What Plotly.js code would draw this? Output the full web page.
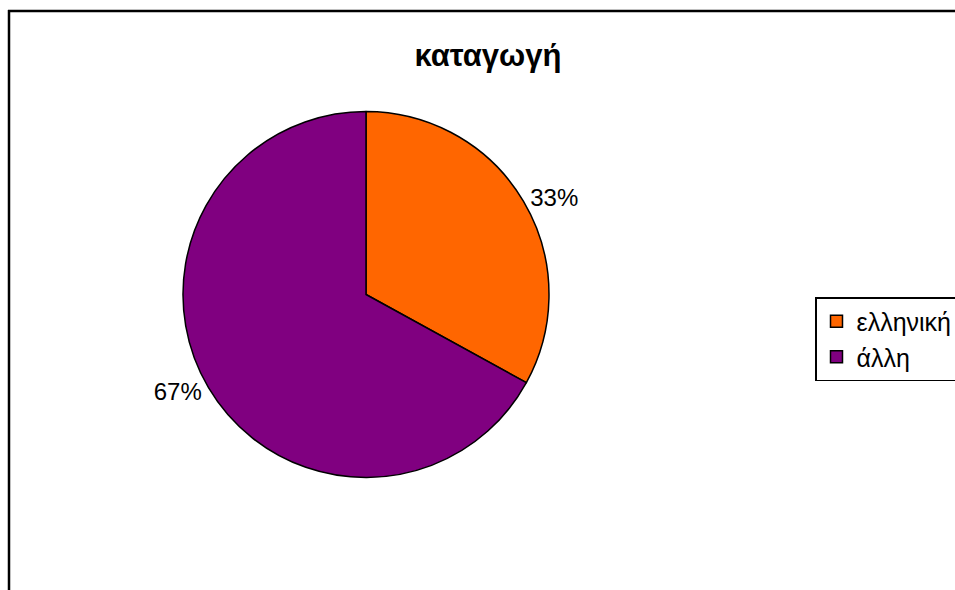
<!DOCTYPE html>
<html>
<head>
<meta charset="utf-8">
<script src="https://cdn.plot.ly/plotly-3.0.1.min.js"></script>
<style>html,body{margin:0;padding:0;background:#fff;}#chart{width:955px;height:590px;}</style>
</head>
<body>
<div id="chart"></div>
<script>
const categories = ["ελληνική", "άλλη"];
const values = [33, 67];
const colors = ["#FF6600", "#800080"];

const W = 955, H = 590;
const FONT = "Liberation Sans, Arial, sans-serif";
const trace = {
  type: "pie",
  labels: categories,
  values: values,
  sort: false,
  direction: "clockwise",
  rotation: 0,
  marker: { colors: colors, line: { color: "#000", width: 1.5 } },
  textposition: "outside",
  texttemplate: "%{percent:.0%}",
  textfont: { family: FONT, size: 24, color: "#000" },
  hoverinfo: "none",
  domain: { x: [183 / W, 549 / W], y: [1 - 478 / H, 1 - 111 / H] },
  automargin: false
};

const layout = {
  width: W, height: H,
  margin: { l: 0, r: 0, t: 0, b: 0, autoexpand: false },
  paper_bgcolor: "#fff",
  title: {
    text: "<b>καταγωγή</b>",
    font: { family: FONT, size: 31, color: "#000" },
    x: 488 / W, xanchor: "center",
    y: 1 - 55 / H, yanchor: "middle"
  },
  showlegend: true,
  legend: {
    x: 815 / W, xanchor: "left",
    y: 1 - 297 / H, yanchor: "top",
    bordercolor: "#000", borderwidth: 1.5,
    bgcolor: "#fff",
    font: { family: FONT, size: 25, color: "#000" },
    itemwidth: 30,
    tracegroupgap: 0
  },
  shapes: [
    { type: "line", xref: "paper", yref: "paper", x0: 9 / W, x1: 9 / W, y0: -0.05, y1: 1 - 10 / H, line: { color: "#000", width: 2.5 } },
    { type: "line", xref: "paper", yref: "paper", x0: 8 / W, x1: 1.05, y0: 1 - 11 / H, y1: 1 - 11 / H, line: { color: "#000", width: 2.5 } }
  ]
};

Plotly.newPlot("chart", [trace], layout, { displayModeBar: false, staticPlot: true });
</script>
</body>
</html>
